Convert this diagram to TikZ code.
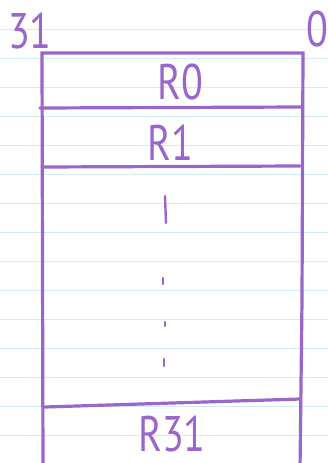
\documentclass[tikz,border=0pt]{standalone}
\usepackage{fontspec}
\newfontfamily\mano[FakeStretch=0.8]{PT Sans}
\definecolor{morado}{HTML}{9966CC}
\definecolor{renglon}{HTML}{D2ECF7}
\begin{document}
\begin{tikzpicture}[
    x=1pt,
    y=-1pt,
    font=\mano\fontsize{50}{50}\selectfont,
    borde/.style={morado,line width=3.2pt,line cap=round},
    marca/.style={morado,line width=2.4pt,line cap=round},
    etiqueta/.style={morado,inner sep=0pt}
]
    \useasboundingbox (0,0) rectangle (328,463);
    \clip (0,0) rectangle (328,463);
    \fill[white] (0,0) rectangle (328,463);

    % Renglones del papel
    \foreach \y in {29,58,...,435}
        \draw[renglon,line width=1pt] (0,\y) -- (328,\y);

    % Marco de los registros
    \coordinate (supizq) at (42,53);
    \coordinate (supder) at (303,53);
    \coordinate (infizq) at (43,470);
    \coordinate (infder) at (300,470);
    \draw[borde] (infizq) -- (supizq) -- (supder) -- (302,300) -- (infder);
    \draw[borde] (40,108) -- (303,107);
    \draw[borde] (42,167) -- (300,166);
    \draw[borde] (45,407) -- (300,399);

    % Bits
    \node[etiqueta,anchor=east] (msb) at (52,31) {31};
    \node[etiqueta] (lsb) at (317,29) {0};

    % Registros
    \node[etiqueta] (r0) at (180,82) {R0};
    \node[etiqueta] (r1) at (170,143) {R1};
    \node[etiqueta] (r31) at (172,434) {R31};

    % Puntos suspensivos
    \draw[marca] (165,196) -- (166,223);
    \draw[marca] (163,278) -- (163,284);
    \draw[marca] (165,322) -- (165,326);
    \draw[marca] (164,359) -- (164,366);
\end{tikzpicture}
\end{document}
